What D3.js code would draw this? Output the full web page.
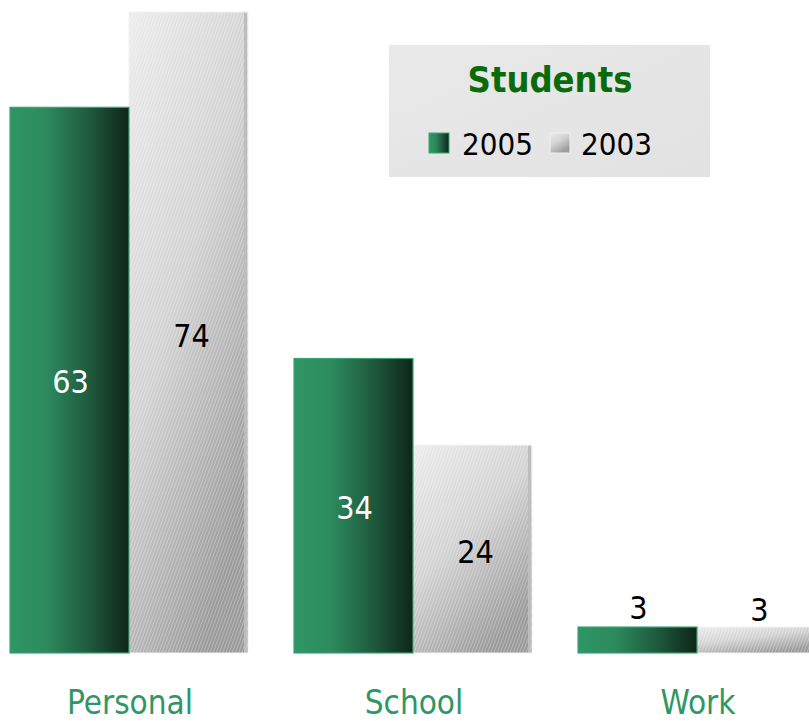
<!DOCTYPE html>
<html><head><meta charset="utf-8">
<script src="https://cdn.jsdelivr.net/npm/d3@7"></script>
<style>body{margin:0;background:#fff;}svg{display:block;}</style>
</head><body>
<script>
const categories = ["Personal", "School", "Work"];
const seriesNames = ["2005", "2003"];
const values2005 = [63, 34, 3];
const values2003 = [74, 24, 3];
const legendTitle = "Students";

const W = 809, H = 721;
const svg = d3.select("body").append("svg").attr("width", W).attr("height", H);
const defs = svg.append("defs");

const g05 = defs.append("linearGradient").attr("id", "g05").attr("x1", 0).attr("x2", 1).attr("y1", 0).attr("y2", 0);
g05.append("stop").attr("offset", "0%").attr("stop-color", "#2f9665");
g05.append("stop").attr("offset", "30%").attr("stop-color", "#2d8b5e");
g05.append("stop").attr("offset", "65%").attr("stop-color", "#1f5c3f");
g05.append("stop").attr("offset", "100%").attr("stop-color", "#0f2519");

const g03 = defs.append("linearGradient").attr("id", "g03").attr("x1", 0).attr("x2", 0.6).attr("y1", 0).attr("y2", 1);
g03.append("stop").attr("offset", "0%").attr("stop-color", "#ececec");
g03.append("stop").attr("offset", "50%").attr("stop-color", "#d2d2d2");
g03.append("stop").attr("offset", "100%").attr("stop-color", "#9a9a9a");

const hatch = defs.append("pattern").attr("id", "hatch").attr("patternUnits", "userSpaceOnUse")
  .attr("width", 3).attr("height", 5).attr("patternTransform", "rotate(20)");
hatch.append("rect").attr("width", 1).attr("height", 5).attr("fill", "rgba(255,255,255,0.3)");

const lg = defs.append("linearGradient").attr("id", "lg").attr("x1", 0).attr("x2", 1).attr("y1", 0).attr("y2", 1);
lg.append("stop").attr("offset", "0%").attr("stop-color", "#e9e9e9");
lg.append("stop").attr("offset", "100%").attr("stop-color", "#e2e2e2");

const x = d3.scaleBand().domain(categories).range([10, 816]).paddingInner(0.162).paddingOuter(0);
const xs = d3.scaleBand().domain(seriesNames).range([0, x.bandwidth()]);
const y = d3.scaleLinear().domain([0, 74]).range([653, 12]);

const font = "'DejaVu Sans Condensed', 'DejaVu Sans', Verdana, sans-serif";

categories.forEach((c, i) => {
  const v5 = values2005[i], v3 = values2003[i];
  const x5 = x(c) + xs("2005"), x3 = x(c) + xs("2003"), bw = xs.bandwidth();
  // 2003 bar
  svg.append("rect").attr("x", x3).attr("y", y(v3)).attr("width", bw).attr("height", y(0) - y(v3))
    .attr("fill", "url(#g03)");
  svg.append("rect").attr("x", x3).attr("y", y(v3)).attr("width", bw).attr("height", y(0) - y(v3))
    .attr("fill", "url(#hatch)");
  svg.append("rect").attr("x", x3 + bw - 4).attr("y", y(v3)).attr("width", 3).attr("height", y(0) - y(v3))
    .attr("fill", "#bdbdbd");
  svg.append("rect").attr("x", x3).attr("y", y(v3)).attr("width", bw).attr("height", y(0) - y(v3))
    .attr("fill", "none").attr("stroke", "#f2f2f2").attr("stroke-width", 1);
  // 2005 bar
  svg.append("rect").attr("x", x5).attr("y", y(v5)).attr("width", bw).attr("height", y(0) - y(v5))
    .attr("fill", "url(#g05)").attr("stroke", "#3aa571").attr("stroke-width", 1.2);

  // labels
  const small = (y(0) - y(v5)) < 60;
  svg.append("text").attr("x", x5 + bw / 2 + 1).attr("y", small ? y(v5) - 8 : (y(v5) + y(0)) / 2 + 13)
    .attr("text-anchor", "middle").attr("font-family", font).attr("font-size", 32)
    .attr("fill", small ? "#000" : "#fff").text(v5);
  const small3 = (y(0) - y(v3)) < 60;
  svg.append("text").attr("x", x3 + bw / 2 + 3).attr("y", small3 ? y(v3) - 6 : (y(v3) + y(0)) / 2 + 14)
    .attr("text-anchor", "middle").attr("font-family", font).attr("font-size", 32)
    .attr("fill", "#000").text(v3);

  svg.append("text").attr("x", x(c) + x.bandwidth() / 2 + 1).attr("y", 714)
    .attr("text-anchor", "middle").attr("font-family", font).attr("font-size", 33)
    .attr("fill", "#2f9665").text(c);
});

// legend
const L = svg.append("g");
L.append("rect").attr("x", 389).attr("y", 45).attr("width", 321).attr("height", 132).attr("fill", "url(#lg)");
L.append("text").attr("x", 550).attr("y", 92).attr("text-anchor", "middle").attr("font-family", font)
  .attr("font-weight", "bold").attr("font-size", 36).attr("fill", "#0a6b0a").text(legendTitle);
const items = [{name: seriesNames[0], sx: 429, tx: 462, fill: "url(#g05)", stroke: "#3aa571"},
               {name: seriesNames[1], sx: 550, tx: 581, fill: "url(#g03)", stroke: "#f2f2f2"}];
items.forEach(it => {
  L.append("rect").attr("x", it.sx).attr("y", 133).attr("width", 20).attr("height", 20)
    .attr("fill", it.fill).attr("stroke", it.stroke);
  L.append("text").attr("x", it.tx).attr("y", 155).attr("font-family", font).attr("font-size", 31)
    .attr("fill", "#000").text(it.name);
});
</script>
</body></html>
